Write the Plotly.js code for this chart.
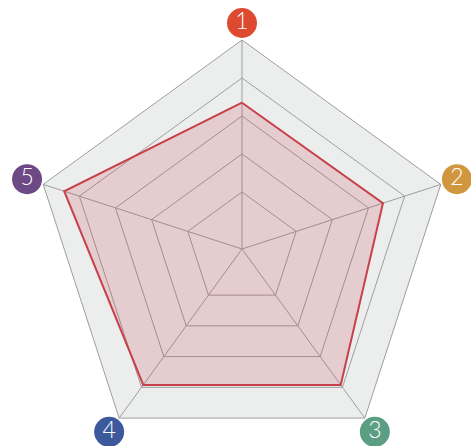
<!DOCTYPE html>
<html>
<head>
<meta charset="utf-8">
<script src="https://cdn.plot.ly/plotly-3.0.1.min.js"></script>
<style>
html,body{margin:0;padding:0;overflow:hidden;background:#fff;width:471px;height:446px;}
#chart{width:520px;height:500px;}
</style>
</head>
<body>
<div id="chart"></div>
<script>
// Data
var categories = ['1', '2', '3', '4', '5'];
var values = [3.85, 3.9, 4.42, 4.42, 4.92];
var labelColors = ['#dd4a2f', '#d0973e', '#5b9e84', '#3c5a9b', '#6d4a86'];
var ringValues = [1.5, 2.5, 3.5, 4.5];
var radialMax = 5.5;

// Geometry (pixels) of the chart frame
var W = 520, H = 500;
var cx = 242, cy = 249, R = 209;      // main radar
var R2 = 236, labelR = 226;           // label ring

var closedTheta = categories.concat([categories[0]]);
var closedValues = values.concat([values[0]]);

var dataTrace = {
  type: 'scatterpolar',
  subplot: 'polar',
  r: closedValues,
  theta: closedTheta,
  mode: 'lines',
  fill: 'toself',
  fillcolor: 'rgba(200,70,85,0.2)',
  line: {color: '#c8404a', width: 2},
  hoverinfo: 'skip'
};

var labelTrace = {
  type: 'scatterpolar',
  subplot: 'polar2',
  r: categories.map(function(){ return labelR; }),
  theta: categories,
  mode: 'markers+text',
  text: categories,
  textposition: 'middle center',
  textfont: {color: '#ffffff', size: 23, family: 'Lato, "Open Sans", sans-serif', weight: 300},
  marker: {size: 30, color: labelColors, line: {width: 0}},
  cliponaxis: false,
  hoverinfo: 'skip'
};

function dom(c, r, total, flip) {
  var a = (c - r) / total, b = (c + r) / total;
  return flip ? [1 - b, 1 - a] : [a, b];
}

var angularBase = {
  type: 'category',
  categoryorder: 'array',
  categoryarray: categories,
  rotation: 90,
  direction: 'clockwise'
};

var layout = {
  width: W,
  height: H,
  margin: {l: 0, r: 0, t: 0, b: 0},
  paper_bgcolor: '#ffffff',
  showlegend: false,
  polar: {
    domain: {x: dom(cx, R, W, false), y: dom(cy, R, H, true)},
    gridshape: 'linear',
    bgcolor: '#eceeee',
    radialaxis: {
      range: [0, radialMax],
      tickvals: ringValues,
      showticklabels: false,
      ticks: '',
      showline: false,
      gridcolor: '#9e9e9e',
      gridwidth: 1
    },
    angularaxis: Object.assign({}, angularBase, {
      showticklabels: false,
      ticks: '',
      showline: true,
      linecolor: '#9e9e9e',
      linewidth: 1,
      gridcolor: '#9e9e9e',
      gridwidth: 1
    })
  },
  polar2: {
    domain: {x: dom(cx, R2, W, false), y: dom(cy, R2, H, true)},
    gridshape: 'linear',
    bgcolor: 'rgba(0,0,0,0)',
    radialaxis: {
      range: [0, R2],
      visible: false,
      showgrid: false,
      showline: false,
      showticklabels: false,
      ticks: ''
    },
    angularaxis: Object.assign({}, angularBase, {
      visible: false,
      showgrid: false,
      showline: false,
      showticklabels: false,
      ticks: ''
    })
  }
};

Plotly.newPlot('chart', [dataTrace, labelTrace], layout, {displayModeBar: false, staticPlot: true});
</script>
</body>
</html>
